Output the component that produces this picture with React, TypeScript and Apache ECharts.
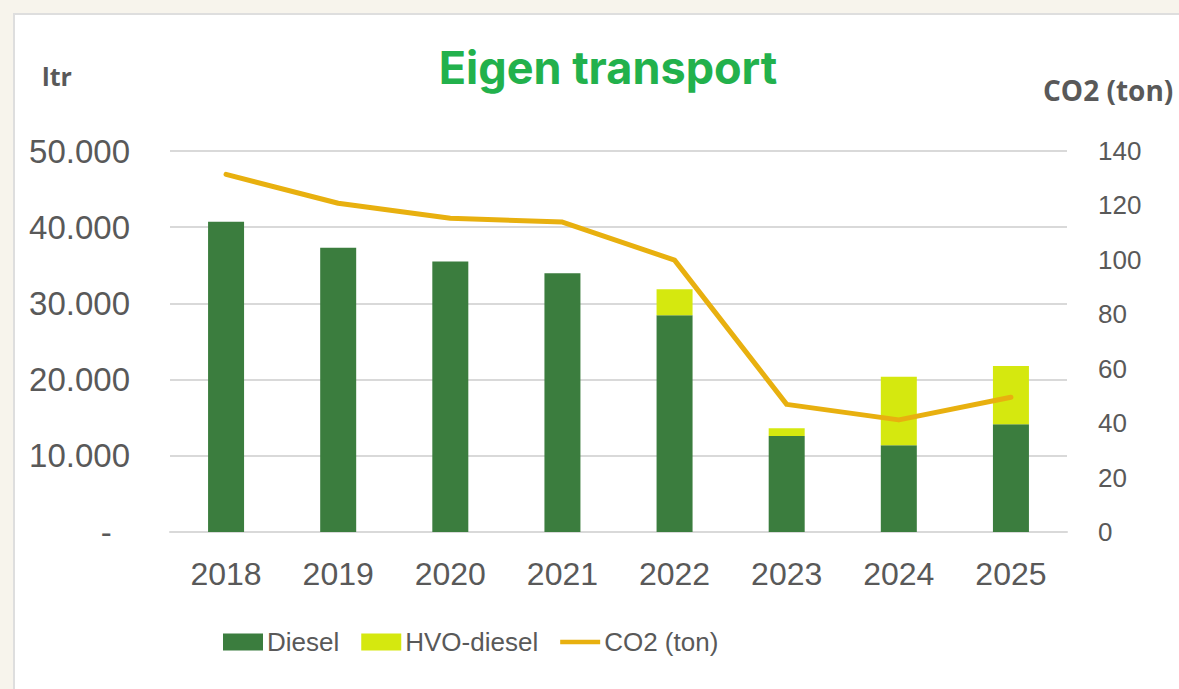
import React, { useEffect, useRef } from "react";
import * as echarts from "echarts";

const years = ["2018", "2019", "2020", "2021", "2022", "2023", "2024", "2025"];
const diesel = [40700, 37300, 35500, 33950, 28450, 12600, 11400, 14130];
const hvoDiesel = [0, 0, 0, 0, 3400, 1010, 8960, 7650];
const co2 = [131.4, 120.8, 115.3, 113.9, 99.9, 46.9, 41.2, 49.5];

const GRAY = "#595959";
const LINE = "#e8b00f";

export default function App() {
  const ref = useRef<HTMLDivElement>(null);
  useEffect(() => {
    if (!ref.current) return;
    const chart = echarts.init(ref.current, null, { renderer: "svg" });
    chart.setOption({
      animation: false,
      backgroundColor: "#f7f4ec",
      title: {
        text: "Eigen transport",
        left: 603,
        textAlign: "center",
        top: 40,
        textStyle: { color: "#22b14c", fontSize: 45, fontWeight: "bold", fontFamily: "Inter, 'Open Sans', sans-serif" },
      },
      graphic: [
        {
          type: "rect",
          z: -10,
          shape: { x: 14, y: 14, width: 1200, height: 700 },
          style: { fill: "#ffffff", stroke: "#dedede", lineWidth: 2 },
        },
        {
          type: "text",
          left: 42,
          top: 63,
          style: { text: "ltr", fill: GRAY, font: "bold 25px 'Open Sans', sans-serif" },
        },
        {
          type: "text",
          left: 1043,
          top: 76,
          style: { text: "CO2 (ton)", fill: GRAY, font: "bold 28px 'Open Sans', sans-serif" },
        },
      ],
      legend: {
        left: 223,
        top: 629,
        padding: 0,
        itemWidth: 40,
        itemHeight: 17,
        itemGap: 22,
        textStyle: { color: GRAY, fontSize: 26, fontFamily: "'Liberation Sans', Arial, sans-serif", padding: [0, 0, 0, -1] },
        data: [
          { name: "Diesel", icon: "rect" },
          { name: "HVO-diesel", icon: "rect" },
          { name: "CO2 (ton)", icon: "path://M0 0h45v5h-45z", itemStyle: { color: LINE } },
        ],
      },
      grid: { left: 170, right: 112, top: 151, bottom: 157 },
      xAxis: {
        type: "category",
        data: years,
        axisLine: { lineStyle: { color: "#d9d9d9", width: 2 } },
        axisTick: { show: false },
        axisLabel: { color: GRAY, fontSize: 32, margin: 26, fontFamily: "'Liberation Sans', Arial, sans-serif" },
      },
      yAxis: [
        {
          type: "value",
          min: 0,
          max: 50000,
          interval: 10000,
          axisLine: { show: false },
          axisTick: { show: false },
          splitLine: { lineStyle: { color: "#d9d9d9", width: 2 } },
          axisLabel: {
            color: GRAY,
            fontSize: 33,
            margin: 40,
            fontFamily: "'Liberation Sans', Arial, sans-serif",
            formatter: (v: number) => (v === 0 ? "-  " : (v / 1000).toFixed(0) + ".000"),
          },
        },
        {
          type: "value",
          min: 0,
          max: 140,
          interval: 20,
          axisLine: { show: false },
          axisTick: { show: false },
          splitLine: { show: false },
          axisLabel: { color: GRAY, fontSize: 26, margin: 31, fontFamily: "'Liberation Sans', Arial, sans-serif" },
        },
      ],
      series: [
        {
          name: "Diesel",
          type: "bar",
          stack: "fuel",
          barWidth: 36,
          data: diesel,
          itemStyle: { color: "#3b7d3e" },
        },
        {
          name: "HVO-diesel",
          type: "bar",
          stack: "fuel",
          barWidth: 36,
          data: hvoDiesel,
          itemStyle: { color: "#d5e80f" },
        },
        {
          name: "CO2 (ton)",
          type: "line",
          yAxisIndex: 1,
          data: co2,
          symbol: "none",
          lineStyle: { color: LINE, width: 5, cap: "round", join: "round" },
          itemStyle: { color: LINE },
        },
      ],
    });
    return () => chart.dispose();
  }, []);
  return (
    <div style={{ position: "fixed", left: 0, top: 0, width: 1179, height: 689 }}>
      <div ref={ref} style={{ width: 1179, height: 689 }} />
    </div>
  );
}
